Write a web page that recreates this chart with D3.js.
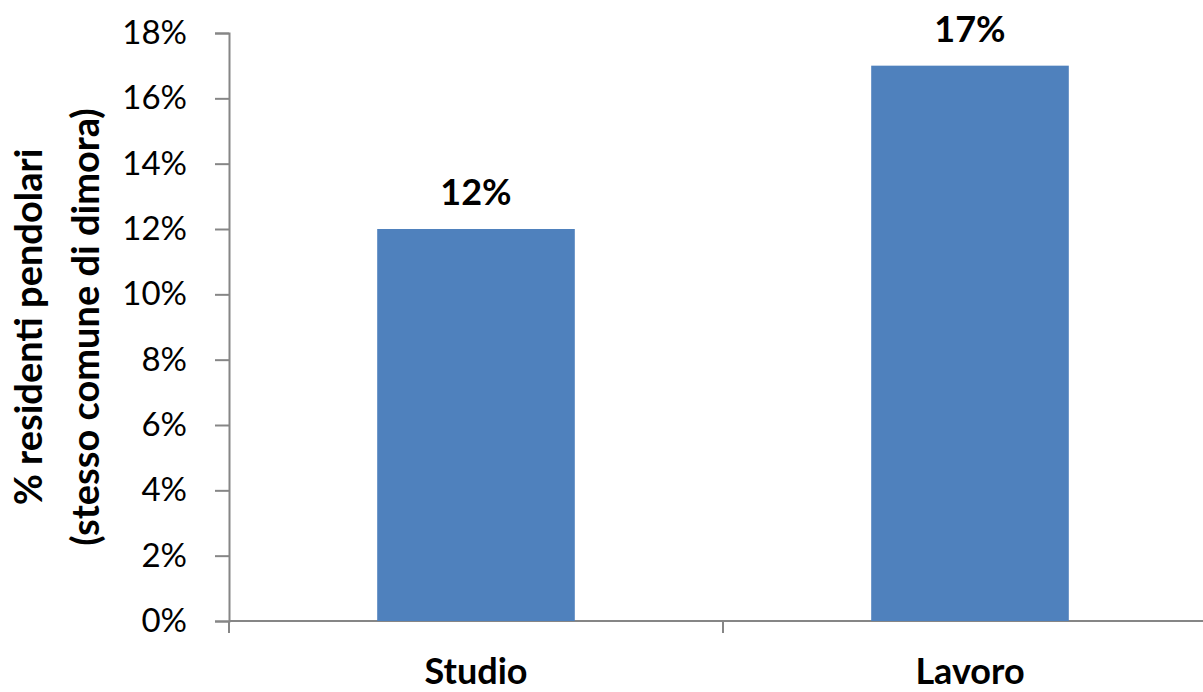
<!DOCTYPE html>
<html>
<head>
<meta charset="utf-8">
<script src="https://cdn.jsdelivr.net/npm/d3@7"></script>
<style>
  body { margin: 0; background: #fff; }
  text { font-family: Lato, "Open Sans", sans-serif; }
</style>
</head>
<body>
<div id="chart"></div>
<script>
// data
var categories = ["Studio", "Lavoro"];
var values = [0.12, 0.17];
var yTicks = [0, 0.02, 0.04, 0.06, 0.08, 0.10, 0.12, 0.14, 0.16, 0.18];

var svgWidth = 1203;
var svgHeight = 692;

var margin = { top: 33, right: -14, bottom: 71, left: 229 };
var width = svgWidth - margin.left - margin.right;
var height = svgHeight - margin.top - margin.bottom;

var svg = d3.select("#chart")
  .append("svg")
  .attr("width", svgWidth)
  .attr("height", svgHeight);

var chartGroup = svg.append("g")
  .attr("transform", `translate(${margin.left}, ${margin.top})`);

var xScale = d3.scaleBand()
  .domain(categories)
  .range([0, width])
  .paddingInner(0.6)
  .paddingOuter(0.3);

var yScale = d3.scaleLinear()
  .domain([0, 0.18])
  .range([height, 0]);

// y axis
var leftAxis = d3.axisLeft(yScale)
  .tickValues(yTicks)
  .tickFormat(d3.format(".0%"))
  .tickSize(14)
  .tickPadding(28);

var yAxis = chartGroup.append("g").call(leftAxis);
yAxis.select(".domain").attr("stroke", "#868686").attr("stroke-width", 2);
yAxis.selectAll(".tick line").attr("stroke", "#868686").attr("stroke-width", 2);
yAxis.selectAll(".tick text")
  .attr("font-size", "33px")
  .attr("fill", "#000");

// x axis line and ticks at category boundaries
chartGroup.append("line")
  .attr("x1", 0).attr("x2", width)
  .attr("y1", height).attr("y2", height)
  .attr("stroke", "#868686").attr("stroke-width", 2);

var step = xScale.step();
var boundaries = [0, step, 2 * step];
chartGroup.selectAll(".xtick")
  .data(boundaries)
  .enter()
  .append("line")
  .attr("class", "xtick")
  .attr("x1", d => d).attr("x2", d => d)
  .attr("y1", height).attr("y2", height + 12)
  .attr("stroke", "#868686").attr("stroke-width", 2);

chartGroup.selectAll(".xlabel")
  .data(categories)
  .enter()
  .append("text")
  .attr("class", "xlabel")
  .attr("x", d => xScale(d) + xScale.bandwidth() / 2)
  .attr("y", height + 63)
  .attr("text-anchor", "middle")
  .attr("font-size", "36px")
  .attr("font-weight", "bold")
  .text(d => d);

// bars
chartGroup.selectAll(".bar")
  .data(values)
  .enter()
  .append("rect")
  .attr("class", "bar")
  .attr("x", (d, i) => xScale(categories[i]))
  .attr("y", d => yScale(d))
  .attr("width", xScale.bandwidth())
  .attr("height", d => height - yScale(d))
  .attr("fill", "#4F81BD");

// value labels
chartGroup.selectAll(".vlabel")
  .data(values)
  .enter()
  .append("text")
  .attr("class", "vlabel")
  .attr("x", (d, i) => xScale(categories[i]) + xScale.bandwidth() / 2)
  .attr("y", d => yScale(d) - 24)
  .attr("text-anchor", "middle")
  .attr("font-size", "36px")
  .attr("font-weight", "bold")
  .text(d => d3.format(".0%")(d));

// y axis title
var title = svg.append("text")
  .attr("transform", `translate(0, ${margin.top + height / 2}) rotate(-90)`)
  .attr("text-anchor", "middle")
  .attr("font-size", "38px")
  .attr("font-weight", "bold");

title.append("tspan").attr("x", 0).attr("y", 42).text("% residenti pendolari");
title.append("tspan").attr("x", 0).attr("y", 99).text("(stesso comune di dimora)");
</script>
</body>
</html>
